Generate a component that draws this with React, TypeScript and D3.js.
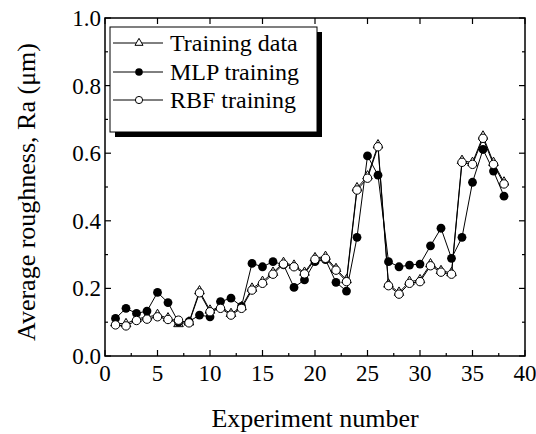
import React from "react";
import * as d3 from "d3";

const experiments = d3.range(1, 39);
const trainingData = [0.097, 0.095, 0.11, 0.115, 0.122, 0.112, 0.095, 0.1, 0.192, 0.135, 0.145, 0.125, 0.145, 0.2, 0.22, 0.247, 0.276, 0.268, 0.247, 0.29, 0.294, 0.258, 0.225, 0.497, 0.532, 0.624, 0.212, 0.188, 0.22, 0.225, 0.272, 0.252, 0.246, 0.578, 0.572, 0.65, 0.572, 0.514];
const mlpTraining = [0.111, 0.141, 0.126, 0.133, 0.188, 0.158, 0.1, 0.102, 0.121, 0.116, 0.161, 0.171, 0.147, 0.274, 0.264, 0.279, 0.27, 0.203, 0.225, 0.279, 0.285, 0.218, 0.192, 0.351, 0.592, 0.535, 0.279, 0.264, 0.269, 0.272, 0.326, 0.378, 0.289, 0.351, 0.514, 0.611, 0.547, 0.473];
const rbfTraining = [0.092, 0.089, 0.105, 0.109, 0.116, 0.108, 0.106, 0.098, 0.187, 0.131, 0.141, 0.121, 0.141, 0.195, 0.215, 0.242, 0.272, 0.264, 0.243, 0.286, 0.289, 0.254, 0.22, 0.491, 0.526, 0.619, 0.208, 0.183, 0.215, 0.22, 0.267, 0.248, 0.242, 0.573, 0.567, 0.644, 0.567, 0.509];
const xTicks = [0, 5, 10, 15, 20, 25, 30, 35, 40];
const yTicks = [0, 0.2, 0.4, 0.6, 0.8, 1.0];
const legendLabels = ["Training data", "MLP training", "RBF training"];

const W = 536, H = 434;
const L = 105, R = 525, T = 18, B = 356;
const font = "'Liberation Serif', 'Times New Roman', serif";

export default function App() {
  const x = d3.scaleLinear().domain([0, 40]).range([L, R]);
  const y = d3.scaleLinear().domain([0, 1]).range([B, T]);
  const line = d3.line<number>().x((_, i) => x(experiments[i])).y((d) => y(d));
  const tri = d3.symbol().type(d3.symbolTriangle).size(40)() as string;
  const triSmall = d3.symbol().type(d3.symbolTriangle).size(28)() as string;
  const xMinor = d3.range(0, 40.01, 2.5);
  const yMinor = d3.range(0, 1.001, 0.1);
  const legY = [43, 72, 100];

  return (
    <svg width={W} height={H} style={{ position: "absolute", left: 0, top: 0, background: "#fff" }}>
      <rect width={W} height={H} fill="#fff" />
      {/* series */}
      <path d={line(trainingData) || ""} fill="none" stroke="#000" strokeWidth={1} />
      {trainingData.map((d, i) => (
        <path key={"t" + i} d={tri} transform={`translate(${x(experiments[i])},${y(d)})`} fill="#fff" stroke="#000" strokeWidth={1} />
      ))}
      <path d={line(mlpTraining) || ""} fill="none" stroke="#000" strokeWidth={1} />
      {mlpTraining.map((d, i) => (
        <circle key={"m" + i} cx={x(experiments[i])} cy={y(d)} r={4.4} fill="#000" />
      ))}
      <path d={line(rbfTraining) || ""} fill="none" stroke="#000" strokeWidth={1} />
      {rbfTraining.map((d, i) => (
        <circle key={"r" + i} cx={x(experiments[i])} cy={y(d)} r={4.2} fill="#fff" stroke="#000" strokeWidth={1} />
      ))}

      {/* frame */}
      <rect x={L} y={T} width={R - L} height={B - T} fill="none" stroke="#000" strokeWidth={1.5} />
      {xMinor.map((v, i) => {
        const major = i % 2 === 0;
        return (
          <g key={"xt" + i}>
            <line x1={x(v)} x2={x(v)} y1={B} y2={B - (major ? 6 : 3)} stroke="#000" strokeWidth={1.2} />
            {major && <line x1={x(v)} x2={x(v)} y1={T} y2={T + 6} stroke="#000" strokeWidth={1.2} />}
          </g>
        );
      })}
      {yMinor.map((v, i) => {
        const major = i % 2 === 0;
        const len = major ? 6 : 3;
        return (
          <g key={"yt" + i}>
            <line x1={L} x2={L + len} y1={y(v)} y2={y(v)} stroke="#000" strokeWidth={1.2} />
            <line x1={R} x2={R - len} y1={y(v)} y2={y(v)} stroke="#000" strokeWidth={1.2} />
          </g>
        );
      })}
      {xTicks.map((v) => (
        <text key={"xl" + v} x={x(v)} y={381} textAnchor="middle" fontFamily={font} fontSize={23} fill="#000">{v}</text>
      ))}
      {yTicks.map((v) => (
        <text key={"yl" + v} x={101} y={y(v) + 8} textAnchor="end" fontFamily={font} fontSize={23} fill="#000">{v.toFixed(1)}</text>
      ))}
      <text x={315} y={427} textAnchor="middle" fontFamily={font} fontSize={26} fill="#000">Experiment number</text>
      <text transform={`translate(35,192) rotate(-90)`} textAnchor="middle" fontFamily={font} fontSize={26} fill="#000">Average roughness, Ra (μm)</text>

      {/* legend */}
      <rect x={115} y={32} width={207} height={105} fill="#000" />
      <rect x={110} y={27} width={207} height={105} fill="#fff" stroke="#000" strokeWidth={1} />
      {legendLabels.map((lab, i) => (
        <g key={"lg" + i}>
          <line x1={113} x2={163} y1={legY[i]} y2={legY[i]} stroke="#000" strokeWidth={1} />
          {i === 0 && <path d={triSmall} transform={`translate(139,${legY[i]})`} fill="#fff" stroke="#000" strokeWidth={1} />}
          {i === 1 && <circle cx={139} cy={legY[i]} r={3.8} fill="#000" />}
          {i === 2 && <circle cx={139} cy={legY[i]} r={3.6} fill="#fff" stroke="#000" strokeWidth={1} />}
          <text x={170} y={legY[i] + 8} fontFamily={font} fontSize={24} fill="#000">{lab}</text>
        </g>
      ))}
    </svg>
  );
}
